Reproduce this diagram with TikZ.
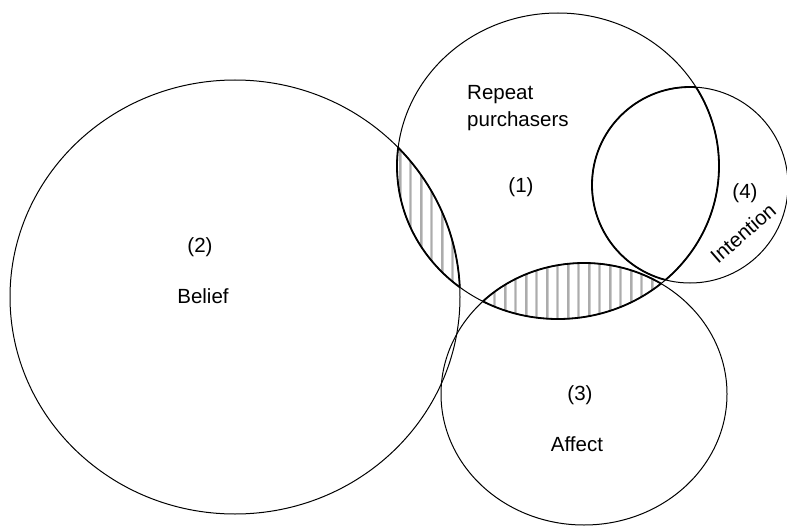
\documentclass[tikz,border=0pt]{standalone}
\usepackage{fontspec}
\setmainfont{Liberation Sans}
\begin{document}
\begin{tikzpicture}[x=1pt,y=-1pt,
  ring/.style={draw=black, line width=1pt},
  rim/.style={draw=black, line width=1.8pt},
  txt/.style={font=\fontsize{20.5}{27}\selectfont, inner sep=0pt},
  stripe/.style={draw=gray!40, line width=3pt},
  stripecore/.style={draw=gray!65, line width=1.3pt},
  % the four sets
  setA/.style={insert path={(558,166) ellipse [x radius=161pt, y radius=153pt]}},
  setB/.style={insert path={(235,297) ellipse [x radius=225pt, y radius=217pt]}},
  setC/.style={insert path={(584,394) ellipse [x radius=143pt, y radius=131pt]}},
  setD/.style={insert path={(690,185) circle [radius=98pt]}}]
\useasboundingbox (0,0) rectangle (787,527);
\fill[white] (0,0) rectangle (787,527);

% hatched overlap of (1) and (2)
\begin{scope}
  \clip[setA]; \clip[setB];
  \foreach \x in {400,410.5,...,470} {
    \draw[stripe] (\x,130) -- (\x,300);
    \draw[stripecore] (\x,130) -- (\x,300);
  }
\end{scope}

% hatched overlap of (1) and (3)
\begin{scope}
  \clip[setA]; \clip[setC];
  \foreach \x in {400,410.5,...,680} {
    \draw[stripe] (\x,240) -- (\x,340);
    \draw[stripecore] (\x,240) -- (\x,340);
  }
\end{scope}

% set outlines
\path[ring, setB];
\path[ring, setA];
\path[ring, setC];
\path[ring, setD];

% bold rims of the overlaps with (1)
\begin{scope} \clip[setB]; \path[rim, setA]; \end{scope}
\begin{scope} \clip[setA]; \path[rim, setB]; \end{scope}
\begin{scope} \clip[setC]; \path[rim, setA]; \end{scope}
\begin{scope} \clip[setA]; \path[rim, setC]; \end{scope}
\begin{scope} \clip[setD]; \path[rim, setA]; \end{scope}
\begin{scope} \clip[setA]; \path[rim, setD]; \end{scope}

% labels
\node[txt, align=left, anchor=north west] (rep) at (467,85) {Repeat\\purchasers};
\node[txt] (n1) at (521,187) {(1)};
\node[txt] (n2) at (200,247) {(2)};
\node[txt] (belief) at (203,296) {Belief};
\node[txt] (n3) at (580,395) {(3)};
\node[txt] (affect) at (577,444) {Affect};
\node[txt] (n4) at (745,193) {(4)};
\node[txt, rotate=41] (intent) at (743,233) {Intention};
\end{tikzpicture}
\end{document}
